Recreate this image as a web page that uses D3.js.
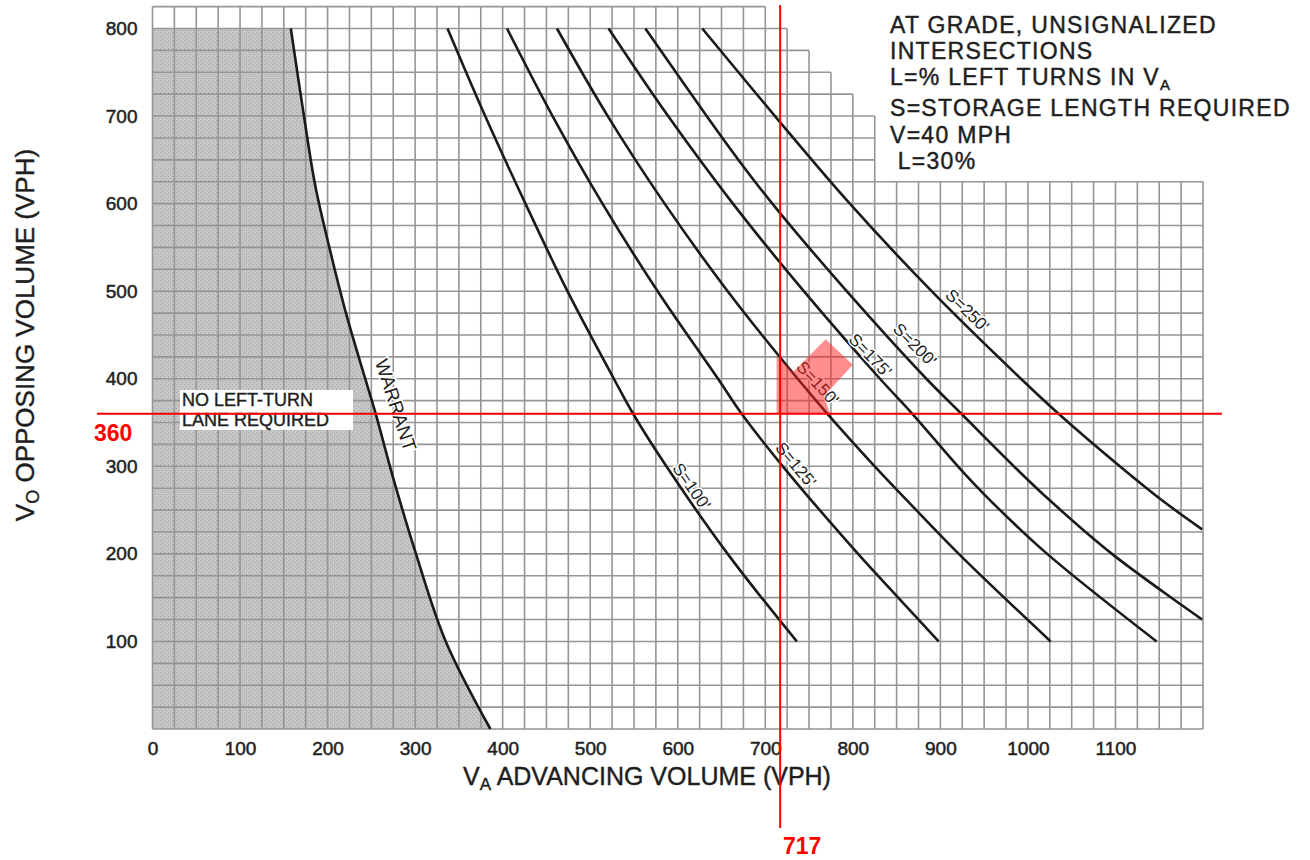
<!DOCTYPE html>
<html>
<head>
<meta charset="utf-8">
<script src="https://cdn.jsdelivr.net/npm/d3@7"></script>
<style>
body { margin: 0; background: #fff; }
svg { display: block; }
</style>
</head>
<body>
<script>
var width = 1310
var height = 860
var font = "'Liberation Sans', Arial, sans-serif"
var ink = "#1e1e1e"

// axis ticks
var x_ticks = [0, 100, 200, 300, 400, 500, 600, 700, 800, 900, 1000, 1100]
var y_ticks = [100, 200, 300, 400, 500, 600, 700, 800]
var grid_step = 25

// the grid paper is cut in steps at the top right
var grid_breaks = [0, 700, 725, 750, 775, 800, 825, 1200]
var grid_tops = [825, 800, 775, 750, 725, 700, 625]

// curves, [advancing VPH, opposing VPH]
var warrant = [[158,800],[173,700],[186,620],[202,550],[221,475],[240,410],[255,360],[274,290],[301,200],[335,100],[386,0]]
var s100 = [[337,800],[380,700],[426,600],[474,500],[527,400],[549,360],[587,300],[657,200],[736,100]]
var s125 = [[405,800],[457,700],[514,600],[577,500],[646,400],[673,360],[720,300],[806,200],[851,151],[898,100]]
var s150 = [[462,800],[520,700],[585,600],[657,500],[737,400],[771,360],[825,300],[861,262],[921,200],[1026,100]]
var s175 = [[521,800],[589,700],[663,600],[744,500],[831,400],[868,360],[920,300],[956,262],[1022,200],[1147,100]]
var s200 = [[563,800],[633,700],[670,649],[708,600],[793,500],[884,400],[924,360],[984,300],[1024,262],[1096,200],[1199,125]]
var s250 = [[628,800],[711,700],[793,604],[890,500],[992,400],[1035,360],[1105,300],[1152,262],[1199,228]]
var s_curves = [s100, s125, s150, s175, s200, s250]

// curve labels
var s_names = ["S=100'", "S=125'", "S=150'", "S=175'", "S=200'", "S=250'"]
var s_label_pos = [[616,277],[735,302],[760,395],[820,427],[871,439],[931,478]]
var s_label_angle = [55, 50, 47, 46, 45, 44]
var warrant_name = "WARRANT"
var warrant_pos = [278, 370]

var note_lines = ["AT GRADE, UNSIGNALIZED", "INTERSECTIONS", "L=% LEFT TURNS IN V|A", "S=STORAGE LENGTH REQUIRED", "V=40 MPH", " L=30%"]
var no_lane = ["NO LEFT-TURN", "LANE REQUIRED"]

// red reading
var cross_x = 717
var cross_y = 360
var highlight = [[713,426],[732,408],[769,445],[800,416],[767,380],[774,360],[713,360]]

var x = d3.scaleLinear()
.domain([0, 1200])
.range([152.5, 1203]);

var y = d3.scaleLinear()
.domain([0, 800])
.range([729, 28.5]);

var svg = d3.select("body").append("svg")
.attr("width", width)
.attr("height", height)
.style("font-family", font)

var defs = svg.append("defs")
var pat = defs.append("pattern")
.attr("id", "dots")
.attr("width", 4)
.attr("height", 4)
.attr("patternUnits", "userSpaceOnUse")
pat.append("rect").attr("width", 4).attr("height", 4).attr("fill", "#c6c6c6")
pat.append("rect").attr("x", 0).attr("y", 0).attr("width", 1).attr("height", 1).attr("fill", "#a4a4a4")
pat.append("rect").attr("x", 2).attr("y", 2).attr("width", 1).attr("height", 1).attr("fill", "#a4a4a4")

function column_top(v) {
    for (var i = 0; i < grid_tops.length; i++) {
        if (v >= grid_breaks[i] && v < grid_breaks[i + 1]) return grid_tops[i]
    }
    return -1
}

// heavier ink for the scanned look
function inked(sel, w) {
    sel.attr("fill", ink)
    .attr("stroke", ink)
    .attr("stroke-width", w)
}

// shaded "no left-turn lane" area
var gray_area = d3.area()
.x0(x(0))
.x1(function(d) { return x(d[0]) })
.y(function(d) { return y(d[1]) })
.curve(d3.curveCatmullRom.alpha(0.5))

svg.append("path")
.datum(warrant)
.attr("d", gray_area)
.attr("fill", "url(#dots)")

// grid
var grid = svg.append("g")
.attr("stroke", "#959595")
.attr("stroke-width", 1.6)

var vlines = d3.range(0, 1200 + grid_step, grid_step)
grid.selectAll(".v")
.data(vlines)
.enter().append("line")
.attr("x1", function(d) { return x(d) })
.attr("x2", function(d) { return x(d) })
.attr("y1", y(0))
.attr("y2", function(d) { return y(Math.max(column_top(d - grid_step), column_top(d))) })

var hlines = d3.range(0, 825 + grid_step, grid_step)
grid.selectAll(".h")
.data(hlines)
.enter().append("line")
.attr("x1", x(0))
.attr("y1", function(d) { return y(d) })
.attr("y2", function(d) { return y(d) })
.attr("x2", function(d) {
    var right = 0
    for (var i = 0; i < grid_tops.length; i++) {
        if (grid_tops[i] >= d) right = grid_breaks[i + 1]
    }
    return x(right)
})

// curves
var curve_line = d3.line()
.x(function(d) { return x(d[0]) })
.y(function(d) { return y(d[1]) })
.curve(d3.curveCatmullRom.alpha(0.5))

svg.append("g")
.selectAll("path")
.data([warrant].concat(s_curves))
.enter().append("path")
.attr("d", curve_line)
.attr("fill", "none")
.attr("stroke", "#1a1a1a")
.attr("stroke-width", 2.6)

// curve labels
svg.append("g")
.selectAll("text")
.data(s_names)
.enter().append("text")
.attr("transform", function(d, i) {
    return "translate(" + x(s_label_pos[i][0]) + "," + y(s_label_pos[i][1]) + ") rotate(" + s_label_angle[i] + ")"
})
.attr("text-anchor", "middle")
.attr("dy", "0.35em")
.style("font-size", "17px")
.attr("fill", ink)
.attr("stroke", "#fff")
.attr("stroke-width", 3)
.attr("paint-order", "stroke")
.text(function(d) { return d })

svg.append("text")
.attr("transform", "translate(" + x(warrant_pos[0]) + "," + y(warrant_pos[1]) + ") rotate(72)")
.attr("text-anchor", "middle")
.attr("dy", "0.35em")
.style("font-size", "19px")
.attr("fill", ink)
.attr("stroke", "#fff")
.attr("stroke-width", 3)
.attr("paint-order", "stroke")
.text(warrant_name)

// no left turn box
svg.append("rect")
.attr("x", 180)
.attr("y", 390)
.attr("width", 173)
.attr("height", 40)
.attr("fill", "#fff")

svg.append("g")
.selectAll("text")
.data(no_lane)
.enter().append("text")
.attr("x", 182)
.attr("y", function(d, i) { return 406 + i * 20 })
.style("font-size", "18px")
.call(inked, 0.4)
.text(function(d) { return d })

// axes
var x_axis = svg.append("g")
.attr("transform", "translate(0," + y(0) + ")")
.call(d3.axisBottom(x).tickValues(x_ticks).tickFormat(d3.format("d")).tickSize(0).tickPadding(13))
x_axis.select(".domain").remove()
x_axis.selectAll("text")
.style("font-family", font)
.style("font-size", "19px")
.call(inked, 0.5)

var y_axis = svg.append("g")
.attr("transform", "translate(" + x(0) + ",0)")
.call(d3.axisLeft(y).tickValues(y_ticks).tickFormat(d3.format("d")).tickSize(0).tickPadding(15))
y_axis.select(".domain").remove()
y_axis.selectAll("text")
.style("font-family", font)
.style("font-size", "19px")
.call(inked, 0.5)

var x_title = svg.append("text")
.attr("x", 647)
.attr("y", 785)
.attr("text-anchor", "middle")
.style("font-size", "25px")
.call(inked, 0.4)
x_title.append("tspan").text("V")
x_title.append("tspan").attr("baseline-shift", "-30%").style("font-size", "17px").text("A")
x_title.append("tspan").text(" ADVANCING VOLUME (VPH)")

var y_title = svg.append("text")
.attr("transform", "translate(34,335) rotate(-90)")
.attr("text-anchor", "middle")
.style("font-size", "26px")
.call(inked, 0.4)
y_title.append("tspan").text("V")
y_title.append("tspan").attr("baseline-shift", "-30%").style("font-size", "18px").text("O")
y_title.append("tspan").text(" OPPOSING VOLUME (VPH)")

// note block
var note_y = [33, 59, 85, 116, 143, 169]
var notes = svg.append("g")
.selectAll("text")
.data(note_lines)
.enter().append("text")
.attr("x", 890)
.attr("y", function(d, i) { return note_y[i] })
.attr("xml:space", "preserve")
.style("font-size", "23px")
.style("letter-spacing", "1.3px")
.call(inked, 0.45)
notes.each(function(d) {
    var parts = d.split("|")
    d3.select(this).append("tspan").text(parts[0])
    if (parts.length > 1) {
        d3.select(this).append("tspan").attr("baseline-shift", "-30%").style("font-size", "15px").text(parts[1])
    }
})

// red reading lines
svg.append("path")
.datum(highlight)
.attr("d", d3.line().x(function(d) { return x(d[0]) }).y(function(d) { return y(d[1]) }))
.attr("fill", "rgba(255, 30, 30, 0.5)")

svg.append("line")
.attr("x1", x(cross_x))
.attr("x2", x(cross_x))
.attr("y1", 5)
.attr("y2", 828)
.attr("stroke", "#ff0000")
.attr("stroke-width", 2)

svg.append("line")
.attr("x1", 97)
.attr("x2", 1222)
.attr("y1", y(cross_y))
.attr("y2", y(cross_y))
.attr("stroke", "#ff0000")
.attr("stroke-width", 2)

svg.append("text")
.attr("x", 94)
.attr("y", 441)
.style("font-size", "23px")
.style("font-weight", "bold")
.attr("fill", "#ff0000")
.text(cross_y)

svg.append("text")
.attr("x", 783)
.attr("y", 854)
.style("font-size", "23px")
.style("font-weight", "bold")
.attr("fill", "#ff0000")
.text(cross_x)
</script>
</body>
</html>
